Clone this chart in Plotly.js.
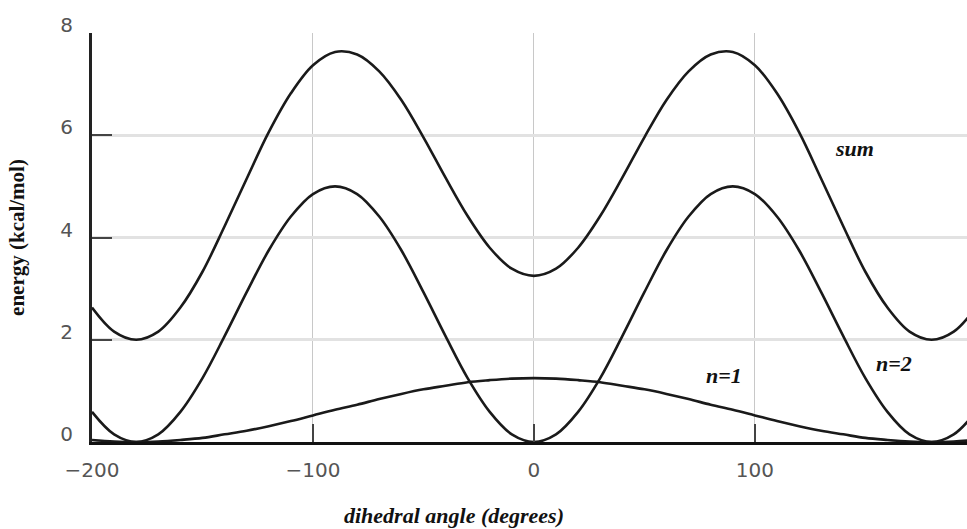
<!DOCTYPE html>
<html>
<head>
<meta charset="utf-8">
<script src="https://cdn.plot.ly/plotly-3.0.1.min.js"></script>
<style>html,body{margin:0;padding:0;background:#fff;}#chart{width:967px;height:529px;}</style>
</head>
<body>
<div id="chart"></div>
<script>
const angles = [-200,-190,-180,-170,-160,-150,-140,-130,-120,-110,-100,-90,-80,-70,-60,-50,-40,-30,-20,-10,0,10,20,30,40,50,60,70,80,90,100,110,120,130,140,150,160,170,180,190,200];
const n1Values = [0.04,0.01,0,0.01,0.04,0.08,0.15,0.22,0.31,0.41,0.52,0.63,0.73,0.84,0.94,1.03,1.10,1.17,1.21,1.24,1.25,1.24,1.21,1.17,1.10,1.03,0.94,0.84,0.73,0.63,0.52,0.41,0.31,0.22,0.15,0.08,0.04,0.01,0,0.01,0.04];
const n2Values = [0.59,0.15,0,0.15,0.59,1.25,2.07,2.93,3.75,4.41,4.85,5,4.85,4.41,3.75,2.93,2.07,1.25,0.59,0.15,0,0.15,0.59,1.25,2.07,2.93,3.75,4.41,4.85,5,4.85,4.41,3.75,2.93,2.07,1.25,0.59,0.15,0,0.15,0.59];
const sumValues = [2.63,2.16,2.00,2.16,2.63,3.33,4.22,5.15,6.06,6.82,7.37,7.63,7.58,7.25,6.69,5.96,5.17,4.42,3.80,3.39,3.25,3.39,3.80,4.42,5.17,5.96,6.69,7.25,7.58,7.63,7.37,6.82,6.06,5.15,4.22,3.33,2.63,2.16,2.00,2.16,2.63];
const xTickVals = [-200,-100,0,100];
const xTickText = ['\u2212200','\u2212100','0','100'];
const yTickVals = [0,2,4,6,8];
const curveLabels = [
  {text:'sum', x:145, y:5.75},
  {text:'n=1', x:86, y:1.3},
  {text:'n=2', x:163, y:1.53}
];

const lineStyle = {color:'#1a1a1a', width:2.6, shape:'spline', smoothing:1};
const traces = [
  {x:angles, y:n1Values, name:'n=1', mode:'lines', line:lineStyle, cliponaxis:true},
  {x:angles, y:n2Values, name:'n=2', mode:'lines', line:lineStyle, cliponaxis:true},
  {x:angles, y:sumValues, name:'sum', mode:'lines', line:lineStyle, cliponaxis:true}
];

const labelFont = {family:'"Liberation Serif", "DejaVu Serif", serif', size:22, color:'#111', weight:'bold', style:'italic'};
const annotations = curveLabels.map(l => ({
  text:l.text, x:l.x, y:l.y, xref:'x', yref:'y', showarrow:false,
  font:labelFont, xanchor:'center', yanchor:'middle'
}));
annotations.push({
  text:'dihedral angle (degrees)', xref:'paper', yref:'paper', x:0.414, y:0, yshift:-73,
  xanchor:'center', yanchor:'middle', showarrow:false,
  font:{family:'"Liberation Serif", serif', size:22, color:'#111', weight:'bold', style:'italic'}
});

const layout = {
  width:967, height:529,
  margin:{l:92, r:0, t:33, b:87},
  paper_bgcolor:'#fff', plot_bgcolor:'#fff',
  showlegend:false,
  xaxis:{
    range:[-200,196], tickvals:xTickVals, ticktext:xTickText,
    ticks:'inside', ticklen:18, tickwidth:2, tickcolor:'#444',
    showgrid:true, gridcolor:'#c8c8c8', gridwidth:1,
    showline:true, linecolor:'#111', linewidth:3,
    zeroline:false,
    tickfont:{family:'"DejaVu Sans", sans-serif', size:20, color:'#555'},
    ticklabelstandoff:8
  },
  yaxis:{
    range:[0,8], tickvals:yTickVals,
    ticks:'inside', ticklen:20, tickwidth:2, tickcolor:'#444',
    showgrid:true, gridcolor:'#e2e2e2', gridwidth:3,
    showline:true, linecolor:'#222', linewidth:3,
    zeroline:false,
    ticklabelshift:-8,
    tickfont:{family:'"DejaVu Sans", sans-serif', size:20, color:'#555'},
    ticklabelstandoff:12,
    title:{text:'energy (kcal/mol)', standoff:30,
      font:{family:'"Liberation Serif", serif', size:21, color:'#111', weight:'bold'}}
  },
  annotations:annotations
};

Plotly.newPlot('chart', traces, layout, {staticPlot:true, displayModeBar:false});
</script>
</body>
</html>
